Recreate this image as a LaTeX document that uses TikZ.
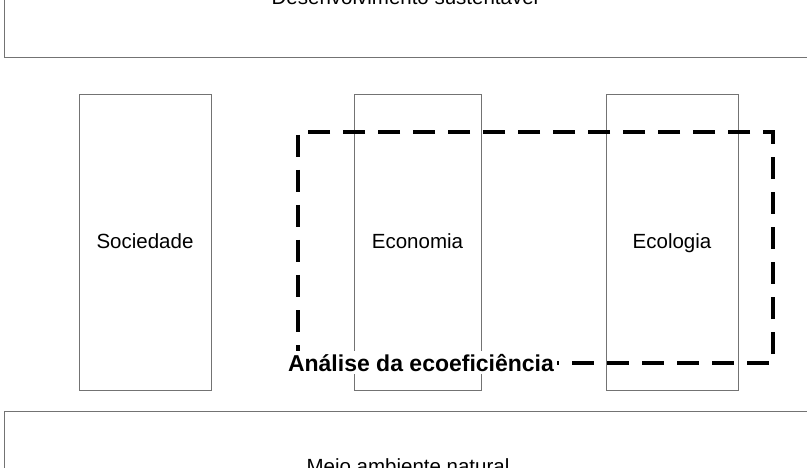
\documentclass[tikz,border=0pt]{standalone}
\usepackage{fontspec}
\setmainfont{Liberation Sans}
\usetikzlibrary{positioning, fit, calc}

\begin{document}
\begin{tikzpicture}[
  x=1pt, y=-1pt,
  band/.style={draw=black!55, line width=1pt, minimum width=880pt, minimum height=140pt, inner sep=0pt},
  pillar/.style={draw=black!55, line width=1pt, minimum height=295pt, inner sep=0pt, text height=15pt, text depth=4pt, font=\fontsize{20.5}{24}\selectfont},
  bandtext/.style={inner sep=0pt, font=\fontsize{20.5}{24}\selectfont},
  scopebox/.style={draw, line width=3.2pt, dash pattern=on 22pt off 13pt, dash phase=6pt, minimum width=475pt, minimum height=231pt, inner sep=0pt},
  tag/.style={fill=white, inner sep=3pt, font=\bfseries\fontsize{23}{27}\selectfont}
]
\useasboundingbox (0,0) rectangle (807,468);
\clip (0,0) rectangle (807,468);

% outer bands
\node[band, anchor=south west] (desenv) at (4,58) {};
\node[bandtext, anchor=base] (desenvtxt) at (405,5) {Desenvolvimento sustentável};
\node[band, anchor=north west] (meio) at (4,411) {};
\node[bandtext, anchor=base] (meiotxt) at (408,473) {Meio ambiente natural};

% three pillars
\node[pillar, minimum width=132pt] (sociedade) at (145,242.5) {Sociedade};
\node[pillar, minimum width=127pt] (economia) at (417.5,242.5) {Economia};
\node[pillar, minimum width=132pt] (ecologia) at (672,242.5) {Ecologia};

% eco-efficiency frame
\node[scopebox] (ecoef) at (535.5,247.5) {};
\node[tag, anchor=base] (ecoeftag) at (421,371) {Análise da ecoeficiência};
\end{tikzpicture}
\end{document}
